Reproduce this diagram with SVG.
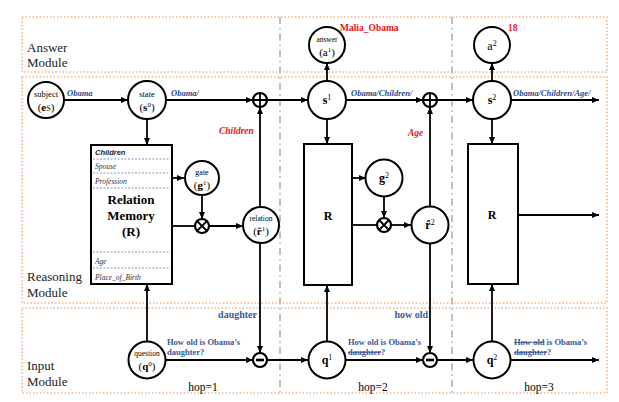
<svg xmlns="http://www.w3.org/2000/svg" width="619" height="402" viewBox="0 0 619 402">
<defs>
<marker id="ah" markerWidth="8" markerHeight="8" refX="7" refY="4" orient="auto" markerUnits="userSpaceOnUse">
<path d="M0,1 L7,4 L0,7 Z" fill="#000"/>
</marker>
<style>
.mod{fill:none;stroke:#f2b48a;stroke-width:1.6;stroke-dasharray:1.5 2}
.hop{stroke:#b0b0b0;stroke-width:1.6;stroke-dasharray:7 4 1.5 4;fill:none}
.nd{fill:#fff;stroke:#000;stroke-width:2}
.op{fill:#fff;stroke:#000;stroke-width:2.2}
.e{stroke:#000;stroke-width:1.8;fill:none}
.a{marker-end:url(#ah)}
.t{font-family:"Liberation Serif","Times New Roman",serif;fill:#000}
.mt{font-family:"Liberation Serif",serif;font-size:13px;fill:#222}
.bl{font-family:"Liberation Serif",serif;font-weight:bold;font-style:italic;font-size:8.5px;fill:#2b4c8c}
.bq{font-family:"Liberation Serif",serif;font-weight:bold;font-size:8.5px;fill:#3a5a98}
.bw{font-family:"Liberation Serif",serif;font-weight:bold;font-size:10px;fill:#3a5a98}
.rd{font-family:"Liberation Serif",serif;font-weight:bold;font-size:9.5px;fill:#e8141c}
.ri{font-style:italic}
.mem{font-family:"Liberation Serif",serif;font-style:italic;font-size:7.5px;fill:#333}
.sep{stroke:#7a9cc6;stroke-width:1;stroke-dasharray:2 1.5}
</style>
</defs>

<g id="modules">
<rect class="mod" x="22" y="17" width="585" height="55"/>
<rect class="mod" x="22" y="77" width="585" height="226"/>
<rect class="mod" x="22" y="308" width="585" height="85"/>
<line class="hop" x1="280" y1="17" x2="280" y2="393"/>
<line class="hop" x1="452" y1="17" x2="452" y2="393"/>
<text class="mt" x="27" y="52">Answer</text>
<text class="mt" x="27" y="67">Module</text>
<text class="mt" x="27" y="281">Reasoning</text>
<text class="mt" x="27" y="297">Module</text>
<text class="mt" x="27" y="370">Input</text>
<text class="mt" x="27" y="386">Module</text>
<text class="t" x="203" y="391" font-size="11.5" text-anchor="middle">hop=1</text>
<text class="t" x="373" y="391" font-size="11.5" text-anchor="middle">hop=2</text>
<text class="t" x="539" y="391" font-size="11.5" text-anchor="middle">hop=3</text>
</g>

<g id="connectors">
<line class="e a" x1="64" y1="100" x2="128" y2="100"/>
<line class="e a" x1="166" y1="100" x2="253" y2="100"/>
<line class="e a" x1="267" y1="100" x2="308" y2="100"/>
<line class="e a" x1="346" y1="100" x2="423" y2="100"/>
<line class="e a" x1="437" y1="100" x2="473" y2="100"/>
<line class="e a" x1="511" y1="100" x2="599" y2="100"/>
<line class="e a" x1="327" y1="81" x2="327" y2="63"/>
<line class="e a" x1="492" y1="81" x2="492" y2="63"/>
<line class="e a" x1="147" y1="119" x2="147" y2="145"/>
<line class="e a" x1="172" y1="178" x2="184" y2="178"/>
<line class="e a" x1="202" y1="195" x2="202" y2="219"/>
<line class="e" x1="172" y1="226" x2="195" y2="226"/>
<line class="e a" x1="209" y1="226" x2="243" y2="226"/>
<line class="e a" x1="260" y1="207" x2="260" y2="107"/>
<line class="e a" x1="260" y1="244" x2="260" y2="353"/>
<line class="e a" x1="147" y1="341" x2="147" y2="284"/>
<line class="e a" x1="166" y1="360" x2="253" y2="360"/>
<line class="e a" x1="267" y1="360" x2="308" y2="360"/>
<line class="e a" x1="346" y1="360" x2="423" y2="360"/>
<line class="e a" x1="437" y1="360" x2="473" y2="360"/>
<line class="e a" x1="511" y1="360" x2="599" y2="360"/>
<line class="e a" x1="327" y1="119" x2="327" y2="144"/>
<line class="e a" x1="327" y1="341" x2="327" y2="285"/>
<line class="e a" x1="352" y1="178" x2="366" y2="178"/>
<line class="e a" x1="384" y1="197" x2="384" y2="218"/>
<line class="e" x1="352" y1="225" x2="377" y2="225"/>
<line class="e a" x1="391" y1="225" x2="411" y2="225"/>
<line class="e a" x1="430" y1="207" x2="430" y2="107"/>
<line class="e a" x1="430" y1="243" x2="430" y2="353"/>
<line class="e a" x1="492" y1="119" x2="492" y2="144"/>
<line class="e a" x1="492" y1="341" x2="492" y2="284"/>
<line class="e a" x1="518" y1="215" x2="599" y2="215"/>
<text class="bl" x="67" y="96">Obama</text>
<text class="bl" x="171" y="96">Obama/</text>
<text class="bl" x="351" y="96">Obama/Children/</text>
<text class="bl" x="513" y="96">Obama/Children/Age/</text>
<text class="rd ri" x="219" y="134">Children</text>
<text class="rd ri" x="408" y="136">Age</text>
<text class="rd" x="340" y="31">Malia_Obama</text>
<text class="rd" x="508" y="31">18</text>
<text class="bw" x="257" y="318" text-anchor="end">daughter</text>
<text class="bw" x="428" y="318" text-anchor="end">how old</text>
<text class="bq" x="167" y="345">How old is Obama’s</text>
<text class="bq" x="167" y="355">daughter?</text>
<text class="bq" x="348" y="345">How old is Obama’s</text>
<text class="bq" x="348" y="355"><tspan text-decoration="line-through">daughter</tspan>?</text>
<text class="bq" x="514" y="345"><tspan text-decoration="line-through">How old</tspan> is Obama’s</text>
<text class="bq" x="514" y="355"><tspan text-decoration="line-through">daughter</tspan>?</text>
</g>

<g id="subject">
<circle class="nd" cx="46" cy="100" r="18"/>
<text class="t" x="46" y="97" font-size="8.5" text-anchor="middle">subject</text>
<text class="t" x="46" y="111" font-size="11" text-anchor="middle">(<tspan font-weight="bold">e</tspan><tspan font-size="8">S</tspan>)</text>
</g>
<g id="state">
<circle class="nd" cx="147" cy="100" r="19"/>
<text class="t" x="147" y="97" font-size="8.5" text-anchor="middle">state</text>
<text class="t" x="147" y="111" font-size="11" text-anchor="middle">(<tspan font-weight="bold">s</tspan><tspan font-size="7" dy="-4">0</tspan><tspan dy="4">)</tspan></text>
</g>
<g id="plus1">
<circle class="op" cx="260" cy="100" r="7"/>
<path class="e" d="M253,100 H267 M260,93 V107"/>
</g>
<g id="s1">
<circle class="nd" cx="327" cy="100" r="19"/>
<text class="t" x="327" y="104" font-size="12" text-anchor="middle"><tspan font-weight="bold">s</tspan><tspan font-size="8" dy="-4">1</tspan></text>
</g>
<g id="plus2">
<circle class="op" cx="430" cy="100" r="7"/>
<path class="e" d="M423,100 H437 M430,93 V107"/>
</g>
<g id="s2">
<circle class="nd" cx="492" cy="100" r="19"/>
<text class="t" x="492" y="104" font-size="12" text-anchor="middle"><tspan font-weight="bold">s</tspan><tspan font-size="8" dy="-4">2</tspan></text>
</g>
<g id="a1">
<circle class="nd" cx="327" cy="45" r="18"/>
<text class="t" x="327" y="42" font-size="7.5" text-anchor="middle">answer</text>
<text class="t" x="327" y="56" font-size="11" text-anchor="middle">(a<tspan font-size="7" dy="-4">1</tspan><tspan dy="4">)</tspan></text>
</g>
<g id="a2">
<circle class="nd" cx="492" cy="45" r="18"/>
<text class="t" x="492" y="50" font-size="12" text-anchor="middle">a<tspan font-size="8" dy="-4">2</tspan></text>
</g>
<g id="memory">
<rect class="nd" x="91" y="145" width="81" height="139"/>
<line class="sep" x1="93" y1="159" x2="170" y2="159"/>
<line class="sep" x1="93" y1="173" x2="170" y2="173"/>
<line class="sep" x1="93" y1="188" x2="170" y2="188"/>
<line class="sep" x1="93" y1="252" x2="170" y2="252"/>
<line class="sep" x1="93" y1="268" x2="170" y2="268"/>
<text x="95" y="155" font-family="Liberation Sans,Arial,sans-serif" font-size="7.5" font-weight="bold" font-style="italic" fill="#222">Children</text>
<text class="mem" x="95" y="169">Spouse</text>
<text class="mem" x="95" y="184">Profession</text>
<text class="t" x="131" y="204" font-size="13" font-weight="bold" text-anchor="middle">Relation</text>
<text class="t" x="131" y="220" font-size="13" font-weight="bold" text-anchor="middle">Memory</text>
<text class="t" x="131" y="236" font-size="13" font-weight="bold" text-anchor="middle">(R)</text>
<text class="mem" x="95" y="264">Age</text>
<text class="mem" x="95" y="280">Place_of_Birth</text>
</g>
<g id="gate1">
<circle class="nd" cx="202" cy="178" r="17"/>
<text class="t" x="202" y="175" font-size="8" text-anchor="middle">gate</text>
<text class="t" x="202" y="189" font-size="11" text-anchor="middle">(<tspan font-weight="bold">g</tspan><tspan font-size="7" dy="-4">1</tspan><tspan dy="4">)</tspan></text>
</g>
<g id="mult1">
<circle class="op" cx="202" cy="226" r="7"/>
<path class="e" d="M197,221 L207,231 M207,221 L197,231"/>
</g>
<g id="relation1">
<circle class="nd" cx="261" cy="225" r="18"/>
<text class="t" x="261" y="221" font-size="7.5" text-anchor="middle">relation</text>
<text class="t" x="261" y="235" font-size="11" text-anchor="middle">(<tspan font-weight="bold">r̂</tspan><tspan font-size="7" dy="-4">1</tspan><tspan dy="4">)</tspan></text>
</g>
<g id="R2">
<rect class="nd" x="304" y="144" width="48" height="141"/>
<text class="t" x="328" y="220" font-size="12" font-weight="bold" text-anchor="middle">R</text>
</g>
<g id="gate2">
<circle class="nd" cx="384" cy="178" r="18.5"/>
<text class="t" x="384" y="182" font-size="12" text-anchor="middle"><tspan font-weight="bold">g</tspan><tspan font-size="8" dy="-4">2</tspan></text>
</g>
<g id="mult2">
<circle class="op" cx="384" cy="225" r="7"/>
<path class="e" d="M379,220 L389,230 M389,220 L379,230"/>
</g>
<g id="relation2">
<circle class="nd" cx="430" cy="225" r="18.5"/>
<text class="t" x="430" y="229" font-size="12" text-anchor="middle"><tspan font-weight="bold">r̂</tspan><tspan font-size="8" dy="-4">2</tspan></text>
</g>
<g id="R3">
<rect class="nd" x="468" y="144" width="50" height="140"/>
<text class="t" x="492" y="219" font-size="12" font-weight="bold" text-anchor="middle">R</text>
</g>
<g id="question">
<circle class="nd" cx="147" cy="360" r="18.5"/>
<text class="t" x="147" y="356" font-size="7.5" text-anchor="middle">question</text>
<text class="t" x="147" y="370" font-size="11" text-anchor="middle">(<tspan font-weight="bold">q</tspan><tspan font-size="7" dy="-4">0</tspan><tspan dy="4">)</tspan></text>
</g>
<g id="minus1">
<circle class="op" cx="260" cy="360" r="7"/>
<line x1="256" y1="360" x2="264" y2="360" stroke="#000" stroke-width="2.6"/>
</g>
<g id="q1">
<circle class="nd" cx="327" cy="360" r="18.5"/>
<text class="t" x="327" y="364" font-size="12" text-anchor="middle"><tspan font-weight="bold">q</tspan><tspan font-size="8" dy="-4">1</tspan></text>
</g>
<g id="minus2">
<circle class="op" cx="430" cy="360" r="7"/>
<line x1="426" y1="360" x2="434" y2="360" stroke="#000" stroke-width="2.6"/>
</g>
<g id="q2">
<circle class="nd" cx="492" cy="360" r="18.5"/>
<text class="t" x="492" y="364" font-size="12" text-anchor="middle"><tspan font-weight="bold">q</tspan><tspan font-size="8" dy="-4">2</tspan></text>
</g>
</svg>
